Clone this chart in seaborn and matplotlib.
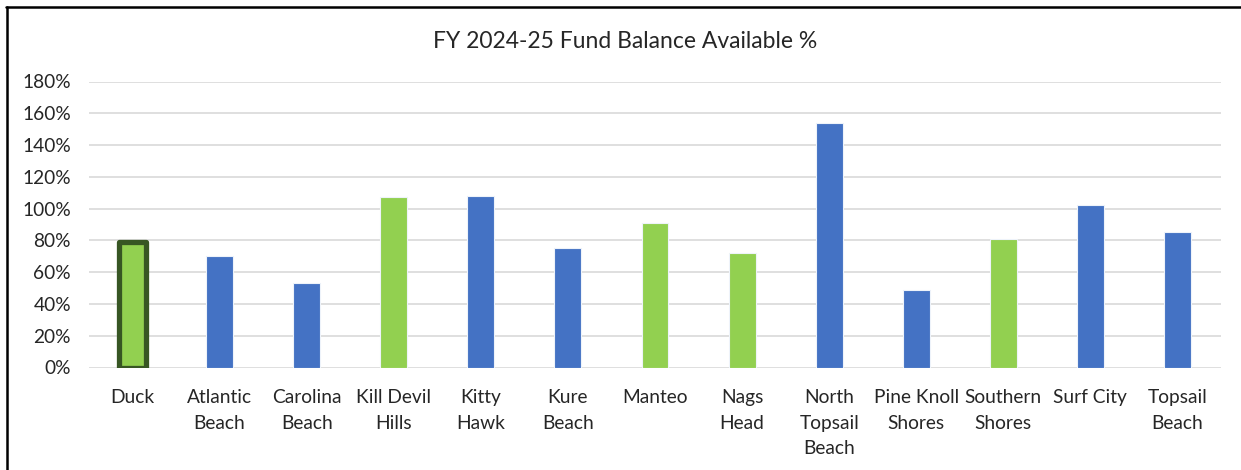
import matplotlib
matplotlib.use("Agg")
import matplotlib.pyplot as plt
from matplotlib.lines import Line2D
from matplotlib.ticker import FuncFormatter, MultipleLocator
import seaborn as sns
import pandas as pd

towns = ["Duck", "Atlantic\nBeach", "Carolina\nBeach", "Kill Devil\nHills", "Kitty\nHawk",
         "Kure\nBeach", "Manteo", "Nags\nHead", "North\nTopsail\nBeach", "Pine Knoll\nShores",
         "Southern\nShores", "Surf City", "Topsail\nBeach"]
fund_balance_pct = [79, 70, 53, 107, 108, 75, 91, 72, 154, 49, 81, 102, 85]
town_group = ["green", "blue", "blue", "green", "blue", "blue", "green", "green",
              "blue", "blue", "green", "blue", "blue"]

BLUE = "#4472C4"
GREEN = "#92D050"
DUCK_EDGE = "#375623"

sns.set_theme(style="white")
plt.rcParams["font.family"] = ["Lato", "DejaVu Sans"]

df = pd.DataFrame({"town": towns, "pct": fund_balance_pct, "group": town_group})
palette = {t: (GREEN if g == "green" else BLUE) for t, g in zip(towns, town_group)}

fig = plt.figure(figsize=(12.41, 4.70), dpi=100)
ax = fig.add_axes([89 / 1241, 1 - 367.5 / 470, (1221 - 89) / 1241, (367.5 - 81.5) / 470])

sns.barplot(data=df, x="town", y="pct", hue="town", palette=palette, legend=False,
            width=0.31, edgecolor="#EEF3FA", linewidth=0.8, saturation=1, ax=ax, zorder=3)

# highlight the first town with a heavy outline
duck = ax.patches[0]
duck.set_edgecolor(DUCK_EDGE)
duck.set_linewidth(3.8)
duck.set_joinstyle("round")

ax.set_ylim(0, 180)
ax.set_xlim(-0.5, len(towns) - 0.5)
ax.yaxis.set_major_locator(MultipleLocator(20))
ax.yaxis.set_major_formatter(FuncFormatter(lambda v, p: f"{v:.0f}%"))
ax.grid(axis="y", color="#D9D9D9", linewidth=1.2, zorder=0)
ax.set_axisbelow(True)
for s in ax.spines.values():
    s.set_visible(False)
ax.tick_params(axis="both", length=0, labelsize=13.8, colors="#262626")
ax.tick_params(axis="y", pad=13)
ax.tick_params(axis="x", pad=15.5)
for lbl in ax.get_xticklabels():
    lbl.set_linespacing(1.62)
    lbl.set_verticalalignment("top")
ax.set_xlabel("")
ax.set_ylabel("")

fig.text(625 / 1241, 1 - 42 / 470, "FY 2024-25 Fund Balance Available %",
         ha="center", va="center", fontsize=16.5, color="#262626")

# frame lines along the top and left edges
fig.add_artist(Line2D([6 / 1241, 1], [1 - 6.5 / 470, 1 - 6.5 / 470], color="black", linewidth=1.8))
fig.add_artist(Line2D([6.5 / 1241, 6.5 / 1241], [0, 1 - 6.5 / 470], color="black", linewidth=1.8))

fig.savefig("out.png", dpi=100)
